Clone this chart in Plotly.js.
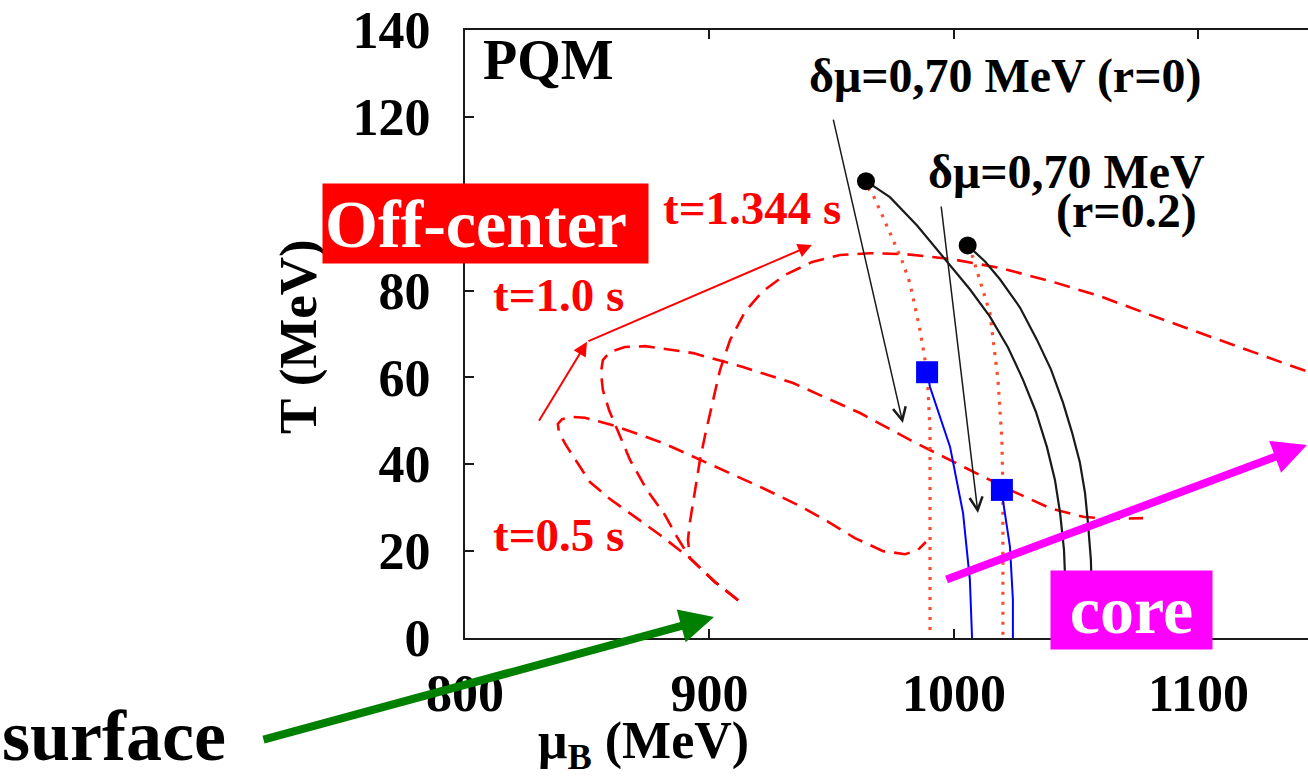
<!DOCTYPE html>
<html>
<head>
<meta charset="utf-8">
<script src="https://cdn.plot.ly/plotly-3.0.1.min.js"></script>
<style>
  html, body { margin: 0; padding: 0; background: #fff; }
  #chart { width: 1308px; height: 781px; }
</style>
</head>
<body>
<div id="chart"></div>
<script>
// T(mu_B) profiles through the fireball (surface -> core) at three times
const t05Mu = [911.7, 902.2, 892.0, 879.8, 869.5, 859.3, 851.1, 845.8, 841.3, 838.4, 838.0, 839.7, 843.8, 849.1, 860.5, 881.0, 896.1, 920.7, 937.0, 948.1, 959.5, 971.0, 980.0, 985.3, 988.5];
const t05T  = [8.7, 12.9, 18.4, 23.7, 27.9, 32.0, 35.9, 40.5, 44.4, 47.4, 49.3, 50.4, 50.9, 50.7, 49.0, 44.9, 41.0, 34.8, 30.4, 26.9, 23.0, 20.0, 19.3, 20.3, 22.1];

const t10Mu = [911.7, 902.2, 892.0, 886.7, 881.8, 874.4, 867.5, 862.2, 858.9, 856.4, 855.6, 856.4, 859.3, 865.4, 873.6, 882.6, 893.3, 913.7, 934.2, 961.6, 982.0, 1002.5, 1022.9, 1039.3, 1052.8, 1063.8, 1077.3];
const t10T  = [8.7, 12.9, 18.4, 23.3, 28.3, 34.1, 41.0, 47.9, 52.5, 57.1, 61.2, 64.0, 65.9, 67.0, 67.2, 66.5, 65.6, 62.4, 58.7, 51.8, 45.6, 39.8, 34.1, 29.9, 27.9, 27.4, 27.6];

const t1344Mu = [911.7, 902.2, 892.0, 891.2, 892.0, 893.3, 894.9, 896.1, 898.2, 901.0, 904.3, 908.4, 914.5, 921.5, 930.9, 942.0, 953.4, 965.6, 980.0, 998.4, 1018.8, 1039.3, 1059.7, 1080.2, 1100.6, 1121.1, 1144.8, 1149.7];
const t1344T  = [8.7, 12.9, 18.4, 22.6, 26.7, 31.1, 36.4, 41.0, 46.7, 53.6, 61.7, 68.6, 75.1, 79.7, 83.6, 86.6, 88.2, 88.6, 88.4, 87.3, 85.2, 82.2, 78.7, 74.4, 70.2, 66.1, 61.2, 60.3];

// First-order transition lines for delta-mu = 0.70 MeV, r = 0 and r = 0.2
const critR0Mu = [964.0, 973.8, 984.9, 997.1, 1006.5, 1014.7, 1022.1, 1028.2, 1033.5, 1038.0, 1041.3, 1043.4, 1045.0, 1045.8, 1045.8];
const critR0T  = [105.2, 101.5, 95.0, 86.7, 80.3, 74.0, 66.9, 59.5, 52.1, 44.0, 36.4, 28.8, 20.3, 8.8, 0];
const critR02Mu = [1005.6, 1012.7, 1018.8, 1027.0, 1033.9, 1039.7, 1044.6, 1048.3, 1051.5, 1053.6, 1054.8, 1056.0, 1056.4, 1056.4];
const critR02T  = [90.4, 86.7, 82.6, 76.1, 68.7, 61.8, 54.2, 47.3, 40.4, 33.4, 26.5, 18.0, 8.8, 0];

// Spinodal-type dotted lines
const dotR0Mu = [964.8, 966.5, 971.0, 975.1, 978.7, 982.0, 986.1, 989.0, 990.2, 990.2, 990.2];
const dotR0T  = [103.6, 102.5, 96.9, 91.6, 87.0, 81.7, 70.9, 61.2, 47.9, 27.2, 0.5];
const dotR02Mu = [1007.4, 1010.6, 1014.7, 1018.0, 1019.6, 1020.0, 1020.0, 1020.0];
const dotR02T  = [88.2, 82.4, 74.8, 59.4, 45.6, 34.1, 18.0, 0.5];

// Blue lines below the end points (squares)
const blueR0Mu = [989.0, 990.2, 998.4, 1003.7, 1006.5, 1007.4];
const blueR0T  = [61.2, 57.8, 44.0, 28.8, 13.4, 0];
const blueR02Mu = [1019.6, 1020.0, 1022.9, 1024.1, 1024.1];
const blueR02T  = [34.1, 31.8, 21.0, 8.8, 0];

// Critical end points and square markers
const cepMu = [964.0, 1005.6];
const cepT  = [105.2, 90.4];
const sqMu  = [989.0, 1019.6];
const sqT   = [61.2, 34.1];

// Arrows in data coordinates: [tailMu, tailT, headMu, headT]
const flowArrows = [[829.9, 49.7, 849.9, 68.2], [849.9, 68.2, 941.9, 90.5]];
const labelArrows = [[950.5, 119.7, 979.1, 49.5], [994.7, 99.7, 1009.8, 28.8]];

const xTicks = [800, 900, 1000, 1100];
const yTicks = [0, 20, 40, 60, 80, 100, 120, 140];

const SERIF = 'Liberation Serif, Times New Roman, serif';
const RED = '#ff0000';

// pixel helpers for placing labels around the frame
const L = 465, R = 1308, TOP = 30, BOT = 638;
const px = x => (x - L) / (R - L);
const py = y => (BOT - y) / (BOT - TOP);

const dashStyle = { color: RED, width: 2.6, dash: '16px,9px' };
const dotStyle = { color: 'rgb(255,75,45)', width: 3.2, dash: '3px,7px' };

const traces = [
  { x: t05Mu, y: t05T, mode: 'lines', line: dashStyle },
  { x: t10Mu, y: t10T, mode: 'lines', line: dashStyle },
  { x: t1344Mu, y: t1344T, mode: 'lines', line: dashStyle },
  { x: dotR0Mu, y: dotR0T, mode: 'lines', line: dotStyle },
  { x: dotR02Mu, y: dotR02T, mode: 'lines', line: dotStyle },
  { x: blueR0Mu, y: blueR0T, mode: 'lines', line: { color: '#0000ff', width: 2 } },
  { x: blueR02Mu, y: blueR02T, mode: 'lines', line: { color: '#0000ff', width: 2 } },
  { x: critR0Mu, y: critR0T, mode: 'lines', line: { color: '#1a1a1a', width: 2.2 } },
  { x: critR02Mu, y: critR02T, mode: 'lines', line: { color: '#1a1a1a', width: 2.2 } },
  { x: cepMu, y: cepT, mode: 'markers', marker: { color: '#000', size: 18, symbol: 'circle' } },
  { x: sqMu, y: sqT, mode: 'markers', marker: { color: '#0000ff', size: 22, symbol: 'square' } }
];

function txt(text, x, y, size, color, opts) {
  return Object.assign({
    text: text, xref: 'paper', yref: 'paper', x: px(x), y: py(y),
    xanchor: 'left', yanchor: 'middle', showarrow: false,
    font: { family: SERIF, size: size, color: color, weight: 'bold' }
  }, opts || {});
}

const annotations = [
  txt('PQM', 481, 60, 56, '#000'),
  txt('δμ=0,70 MeV (r=0)', 807, 76, 48, '#000'),
  txt('δμ=0,70 MeV', 1207, 171, 48, '#000', { xanchor: 'right' }),
  txt('(r=0.2)', 1199, 211, 48, '#000', { xanchor: 'right' }),
  txt('t=1.344 s', 661, 208, 47, RED),
  txt('t=1.0 s', 491, 295, 47, RED),
  txt('t=0.5 s', 491, 535, 47, RED),
  txt('T (MeV)', 299, 337, 53, '#000', { xanchor: 'center', textangle: -90 }),
  txt('μ<sub>B</sub> (MeV)', 643, 744, 52, '#000', { xanchor: 'center' }),
  // highlighted labels
  txt('Off-center', 322, 183, 68, '#fff', {
    yanchor: 'top', bgcolor: RED, width: 321, height: 75, borderpad: 2, align: 'left'
  }),
  txt('core', 1050, 570, 68, '#fff', {
    yanchor: 'top', bgcolor: '#ff00ff', width: 157, height: 74, borderpad: 2, align: 'center'
  }),
  txt('surface', 0, 736, 72, '#000'),
  // pointers to the surface and core ends of the profiles
  { text: '', xref: 'paper', yref: 'paper', x: px(714), y: py(617), ax: 262 - 714, ay: 740 - 617,
    showarrow: true, arrowhead: 2, arrowsize: 0.85, arrowwidth: 8, arrowcolor: '#008000' },
  { text: '', xref: 'paper', yref: 'paper', x: px(1314), y: py(445), ax: 945 - 1314, ay: 580 - 445,
    showarrow: true, arrowhead: 2, arrowsize: 0.85, arrowwidth: 8, arrowcolor: '#ff00ff' }
];

flowArrows.forEach(a => annotations.push({
  text: '', xref: 'x', yref: 'y', axref: 'x', ayref: 'y',
  ax: a[0], ay: a[1], x: a[2], y: a[3],
  showarrow: true, arrowhead: 2, arrowsize: 1.4, arrowwidth: 2, arrowcolor: RED
}));
labelArrows.forEach(a => annotations.push({
  text: '', xref: 'x', yref: 'y', axref: 'x', ayref: 'y',
  ax: a[0], ay: a[1], x: a[2], y: a[3],
  showarrow: true, arrowhead: 5, arrowsize: 1.7, arrowwidth: 1.5, arrowcolor: '#1a1a1a'
}));

const axisCommon = {
  showgrid: false, zeroline: false, showline: true, linecolor: '#1a1a1a', linewidth: 2,
  ticks: 'inside', ticklen: 9, tickwidth: 2, tickcolor: '#1a1a1a',
  tickfont: { family: SERIF, size: 52, color: '#000', weight: 'bold' }
};

const layout = {
  width: 1308, height: 781,
  margin: { l: L, r: 0, t: TOP, b: 781 - BOT },
  paper_bgcolor: '#fff', plot_bgcolor: '#fff',
  showlegend: false,
  xaxis: Object.assign({}, axisCommon, {
    range: [800, 1144.8], tickvals: xTicks, ticktext: xTicks.map(String),
    mirror: 'ticks', ticklabelstandoff: 9
  }),
  yaxis: Object.assign({}, axisCommon, {
    range: [0, 140], tickvals: yTicks, ticktext: yTicks.map(String),
    mirror: false, ticklabelstandoff: 22
  }),
  annotations: annotations
};

Plotly.newPlot('chart', traces, layout, { staticPlot: true, displayModeBar: false });
</script>
</body>
</html>
